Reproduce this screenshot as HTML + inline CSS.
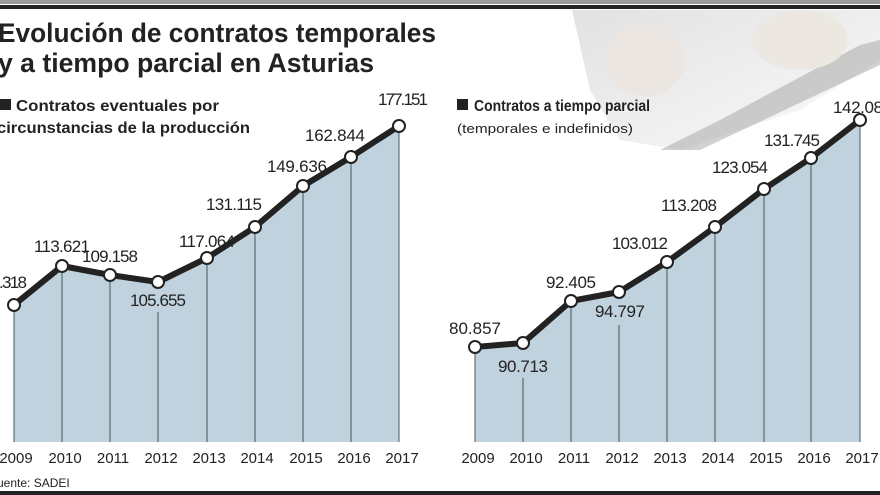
<!DOCTYPE html>
<html><head><meta charset="utf-8"><style>
body{margin:0;background:#fff;}
svg{display:block;}
text{font-family:"Liberation Sans",sans-serif;}
</style></head><body>
<svg width="880" height="495" viewBox="0 0 880 495" xmlns="http://www.w3.org/2000/svg">
<defs>
<linearGradient id="ph" x1="0" y1="0" x2="1" y2="1">
<stop offset="0" stop-color="#e2e2e2"/><stop offset="0.6" stop-color="#f0f0f0"/><stop offset="1" stop-color="#ffffff"/>
</linearGradient>
</defs>
<rect width="880" height="495" fill="#fff"/>
<rect x="0" y="0" width="880" height="4" fill="#9a9a9a"/>
<rect x="0" y="5" width="880" height="4" fill="#222"/>
<polygon points="572,10 880,10 880,60 800,110 680,150 620,140 590,90" fill="url(#ph)"/>
<polygon points="720,120 860,45 880,40 880,65 700,150 660,150" fill="#9a9a9a" opacity="0.45"/>
<ellipse cx="645" cy="60" rx="40" ry="36" fill="#ebe6e2"/>
<ellipse cx="800" cy="40" rx="48" ry="30" fill="#ede7e2"/>
<text x="-2" y="42" font-size="27" font-weight="bold" fill="#222" textLength="438" lengthAdjust="spacingAndGlyphs">Evolución de contratos temporales</text>
<text x="-2" y="72" font-size="27" font-weight="bold" fill="#222" textLength="376" lengthAdjust="spacingAndGlyphs">y a tiempo parcial en Asturias</text>
<rect x="0" y="99" width="11" height="11" fill="#222"/>
<text x="16" y="111" font-size="16" font-weight="bold" fill="#222" textLength="203" lengthAdjust="spacingAndGlyphs">Contratos eventuales por</text>
<text x="-3" y="133" font-size="16" font-weight="bold" fill="#222" textLength="253" lengthAdjust="spacingAndGlyphs">circunstancias de la producción</text>
<rect x="457" y="99" width="11" height="11" fill="#222"/>
<text x="474" y="111" font-size="16" font-weight="bold" fill="#222" textLength="176" lengthAdjust="spacingAndGlyphs">Contratos a tiempo parcial</text>
<text x="457" y="133" font-size="13" fill="#222" textLength="176" lengthAdjust="spacingAndGlyphs">(temporales e indefinidos)</text>
<polygon points="14,442 14,305 62,266 110,275 158,282 207,258 255,227 303,186 351,157 399,126 399,442" fill="#bfd2de"/>
<g stroke="#4a5560" stroke-width="1">
<line x1="14" y1="305" x2="14" y2="442"/><line x1="62" y1="266" x2="62" y2="442"/><line x1="110" y1="275" x2="110" y2="442"/>
<line x1="158" y1="312" x2="158" y2="442"/><line x1="207" y1="258" x2="207" y2="442"/><line x1="255" y1="227" x2="255" y2="442"/>
<line x1="303" y1="186" x2="303" y2="442"/><line x1="351" y1="157" x2="351" y2="442"/><line x1="399" y1="126" x2="399" y2="442"/>
</g>
<polyline points="14,305 62,266 110,275 158,282 207,258 255,227 303,186 351,157 399,126" fill="none" stroke="#222" stroke-width="6" stroke-linejoin="round"/>
<g fill="#fff" stroke="#222" stroke-width="2">
<circle cx="14" cy="305" r="6"/><circle cx="62" cy="266" r="6"/><circle cx="110" cy="275" r="6"/><circle cx="158" cy="282" r="6"/><circle cx="207" cy="258" r="6"/><circle cx="255" cy="227" r="6"/><circle cx="303" cy="186" r="6"/><circle cx="351" cy="157" r="6"/><circle cx="399" cy="126" r="6"/>
</g>
<g font-size="17" fill="#222" text-anchor="middle" lengthAdjust="spacingAndGlyphs">
<text x="13" y="288" textLength="28">.318</text>
<text x="62" y="252" textLength="56">113.621</text>
<text x="110" y="262" textLength="56">109.158</text>
<text x="158" y="306" textLength="56">105.655</text>
<text x="207" y="247" textLength="56">117.064</text>
<text x="234" y="210" textLength="56">131.115</text>
<text x="297" y="172" textLength="60">149.636</text>
<text x="335" y="141" textLength="60">162.844</text>
<text x="403" y="105" textLength="50">177.151</text>
</g>
<polygon points="475,442 475,347 523,343 571,301 619,292 667,262 715,227 764,189 811,158 860,120 860,442" fill="#bfd2de"/>
<g stroke="#4a5560" stroke-width="1">
<line x1="475" y1="347" x2="475" y2="442"/><line x1="523" y1="378" x2="523" y2="442"/><line x1="571" y1="301" x2="571" y2="442"/>
<line x1="619" y1="325" x2="619" y2="442"/><line x1="667" y1="262" x2="667" y2="442"/><line x1="715" y1="227" x2="715" y2="442"/>
<line x1="764" y1="189" x2="764" y2="442"/><line x1="811" y1="158" x2="811" y2="442"/><line x1="860" y1="120" x2="860" y2="442"/>
</g>
<polyline points="475,347 523,343 571,301 619,292 667,262 715,227 764,189 811,158 860,120" fill="none" stroke="#222" stroke-width="6" stroke-linejoin="round"/>
<g fill="#fff" stroke="#222" stroke-width="2">
<circle cx="475" cy="347" r="6"/><circle cx="523" cy="343" r="6"/><circle cx="571" cy="301" r="6"/><circle cx="619" cy="292" r="6"/><circle cx="667" cy="262" r="6"/><circle cx="715" cy="227" r="6"/><circle cx="764" cy="189" r="6"/><circle cx="811" cy="158" r="6"/><circle cx="860" cy="120" r="6"/>
</g>
<g font-size="17" fill="#222" text-anchor="middle" lengthAdjust="spacingAndGlyphs">
<text x="475" y="334" textLength="52">80.857</text>
<text x="523" y="372" textLength="50">90.713</text>
<text x="571" y="288" textLength="50">92.405</text>
<text x="620" y="317" textLength="50">94.797</text>
<text x="640" y="249" textLength="56">103.012</text>
<text x="689" y="211" textLength="56">113.208</text>
<text x="740" y="173" textLength="56">123.054</text>
<text x="792" y="146" textLength="56">131.745</text>
<text x="858" y="113" textLength="50">142.08</text>
</g>
<g font-size="15" fill="#222" text-anchor="middle">
<text x="16" y="463">2009</text><text x="65" y="463">2010</text><text x="113" y="463">2011</text><text x="161" y="463">2012</text><text x="209" y="463">2013</text><text x="257" y="463">2014</text><text x="306" y="463">2015</text><text x="354" y="463">2016</text><text x="402" y="463">2017</text>
<text x="478" y="463">2009</text><text x="526" y="463">2010</text><text x="574" y="463">2011</text><text x="622" y="463">2012</text><text x="670" y="463">2013</text><text x="718" y="463">2014</text><text x="766" y="463">2015</text><text x="814" y="463">2016</text><text x="862" y="463">2017</text>
</g>
<text x="-3" y="487" font-size="12" fill="#222">uente: SADEI</text>
<rect x="0" y="491" width="880" height="4" fill="#222"/>
</svg>
</body></html>
